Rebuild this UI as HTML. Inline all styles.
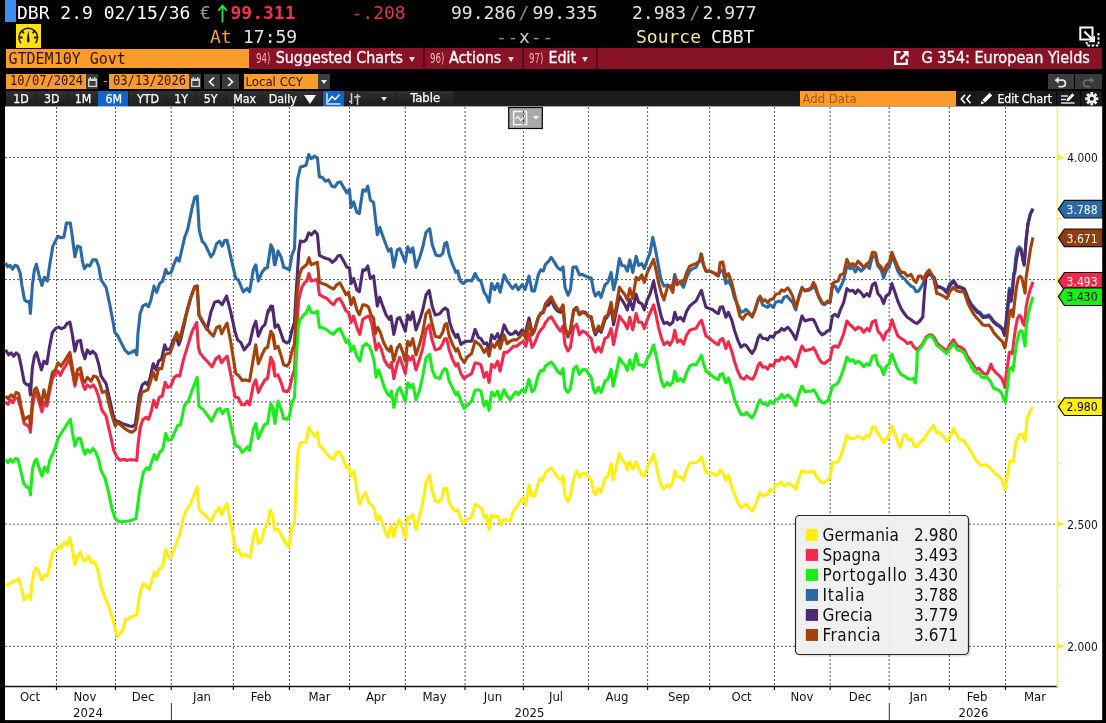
<!DOCTYPE html>
<html><head><meta charset="utf-8"><title>G 354: European Yields</title>
<style>
*{box-sizing:border-box}
html,body{margin:0;padding:0;background:#000}
body{width:1106px;height:723px;position:relative;overflow:hidden;font-family:"DejaVu Sans Condensed","DejaVu Sans","Liberation Sans",sans-serif;color:#fff}
.a{position:absolute;white-space:pre;line-height:1}
.m{font-family:"DejaVu Sans Mono","Liberation Mono",monospace}
.h1{font-size:18px;top:4.2px}
.h2{font-size:18px;top:27.9px}
.rb{position:absolute;top:48px;height:21px;background:#8a1226}
.rt{font-size:15.9px;top:50.3px;color:#fff;-webkit-text-stroke:.3px #fff}
.rn{font-size:14.6px;top:51.3px;color:#f3b0b6;transform:scaleX(.66);transform-origin:0 0}
.tb{position:absolute;top:90.5px;height:16px;background:#262626}
.tt{font-size:12.3px;top:92.5px;color:#fff;-webkit-text-stroke:.25px #fff}
svg{position:absolute;overflow:visible}
</style></head>
<body>
<div class="a" style="left:5px;top:0;width:10.5px;height:21.5px;background:#3c8cf0"></div>
<div class="a m h1" style="left:17px;color:#fff">DBR 2.9 02/15/36</div>
<div class="a m h1" style="left:200px;color:#9a9a9a">€</div>
<svg style="left:217px;top:4px" width="11" height="19" viewBox="0 0 11 19"><path d="M5.5 1.5V18.5M1.3 6.6L5.5 1.6 9.7 6.6" fill="none" stroke="#2fe04a" stroke-width="1.8"/></svg>
<div class="a m h1" style="left:230.5px;color:#f5304f;font-weight:bold">99.311</div>
<div class="a m h1" style="left:351.5px;color:#e8334d">-.208</div>
<div class="a m h1" style="left:451px;color:#e4e4e4">99.286</div>
<div class="a m h1" style="left:518.5px;color:#8a8a8a">/</div>
<div class="a m h1" style="left:532.5px;color:#e4e4e4">99.335</div>
<div class="a m h1" style="left:632px;color:#e4e4e4">2.983</div>
<div class="a m h1" style="left:689.5px;color:#8a8a8a">/</div>
<div class="a m h1" style="left:702.5px;color:#e4e4e4">2.977</div>
<div class="a" style="left:16px;top:23.5px;width:25px;height:24.5px;background:#ffe011"></div>
<svg style="left:16px;top:23.5px" width="25" height="24.5" viewBox="0 0 25 24.5"><path d="M4.9 19.2A9.3 9.3 0 1 1 19.6 19.2" fill="none" stroke="#1a1400" stroke-width="1.5"/><path d="M12.25 6.3C12.8 10 13.6 14.5 13.5 17.3A1.3 1.7 0 0 1 11 17.3C10.9 14.5 11.7 10 12.25 6.3Z" fill="#1a1400"/><path d="M3.3 13.5H6.6M17.9 13.5H21.2" stroke="#1a1400" stroke-width="2.1"/><path d="M5.8 7.3L8 8.9M18.7 7.3L16.5 8.9" stroke="#1a1400" stroke-width="1.9"/></svg>
<div class="a m h2" style="left:210px;color:#f9a03f">At</div>
<div class="a m h2" style="left:243px;color:#e4e4e4">17:59</div>
<div class="a m h2" style="left:496px;color:#8e8e8e;letter-spacing:.7px">--<span style="color:#cfcfcf">x</span>--</div>
<div class="a m h2" style="left:636px;color:#f3ea8e">Source</div>
<div class="a m h2" style="left:711px;color:#f0f0f0">CBBT</div>
<div class="a" style="left:6px;top:48.7px;width:242.5px;height:19.6px;background:#fb9b2b"></div>
<div class="a m" style="left:8.5px;top:52.3px;font-size:15px;color:#2a1600">GTDEM10Y Govt</div>
<div class="rb" style="left:248.5px;width:853.5px"></div>
<div class="a" style="left:423px;top:48px;width:1.5px;height:21px;background:#5a0a18"></div>
<div class="a" style="left:522px;top:48px;width:1.5px;height:21px;background:#5a0a18"></div>
<div class="a" style="left:596px;top:48px;width:1.5px;height:21px;background:#5a0a18"></div>
<div class="a rn" style="left:256.3px">94)</div>
<div class="a rt" style="left:275.7px">Suggested Charts</div>
<div class="a" style="left:409px;top:56.5px;width:0;height:0;border-left:3.5px solid transparent;border-right:3.5px solid transparent;border-top:5px solid #f4d8dc"></div>
<div class="a rn" style="left:429.5px">96)</div>
<div class="a rt" style="left:449px">Actions</div>
<div class="a" style="left:508px;top:56.5px;width:0;height:0;border-left:3.5px solid transparent;border-right:3.5px solid transparent;border-top:5px solid #f4d8dc"></div>
<div class="a rn" style="left:528.5px">97)</div>
<div class="a rt" style="left:548.5px">Edit</div>
<div class="a" style="left:582px;top:56.5px;width:0;height:0;border-left:3.5px solid transparent;border-right:3.5px solid transparent;border-top:5px solid #f4d8dc"></div>
<svg style="left:894px;top:51px" width="15" height="14" viewBox="0 0 15 14"><path d="M6.5 1.2H1.2V12.8H12.8V7.8" fill="none" stroke="#fff" stroke-width="2.2"/><path d="M8.2 0H14.6V6.4L12.3 4.1 7.4 9 5.6 7.2 10.5 2.3Z" fill="#fff"/></svg>
<div class="a rt" style="left:921.5px;font-size:16.1px;top:50px">G 354: European Yields</div>
<svg style="left:1078px;top:25px" width="23" height="23" viewBox="0 0 23 23"><path d="M2.3 2.5H14.5V14.5H2.3Z" fill="none" stroke="#fff" stroke-width="2"/><path d="M6.3 6.6L13.5 13.6" stroke="#fff" stroke-width="2.1"/><path d="M17 17.2V10.6L10.6 17.2Z" fill="#fff"/><path d="M20.5 8V20.5H8.7V16.5" fill="none" stroke="#fff" stroke-width="1.9" stroke-dasharray="2.6 1.6"/></svg>
<div class="a" style="left:6px;top:74px;width:79.5px;height:15px;background:#fb9b2b"></div>
<div class="a m" style="left:10px;top:74.3px;font-size:13.9px;color:#2a1600;transform:scaleX(.873);transform-origin:0 0">10/07/2024</div>
<div class="a" style="left:85.5px;top:74px;width:12.5px;height:15px;background:#3c3c3c"></div>
<svg style="left:87.5px;top:76.5px" width="9" height="10" viewBox="0 0 9 10"><path d="M.7 2.2H8.3V9.3H.7Z" fill="none" stroke="#d8d8d8" stroke-width="1.3"/><path d="M.7 2.2H8.3V4H.7Z" fill="#d8d8d8"/><path d="M2.3 0V2M6.7 0V2" stroke="#d8d8d8" stroke-width="1.2"/></svg>
<div class="a m" style="left:101.5px;top:74px;font-size:13px;color:#fb9b2b">-</div>
<div class="a" style="left:109.3px;top:74px;width:79.5px;height:15px;background:#fb9b2b"></div>
<div class="a m" style="left:113.3px;top:74.3px;font-size:13.9px;color:#2a1600;transform:scaleX(.873);transform-origin:0 0">03/13/2026</div>
<div class="a" style="left:188.8px;top:74px;width:12.5px;height:15px;background:#3c3c3c"></div>
<svg style="left:190.8px;top:76.5px" width="9" height="10" viewBox="0 0 9 10"><path d="M.7 2.2H8.3V9.3H.7Z" fill="none" stroke="#d8d8d8" stroke-width="1.3"/><path d="M.7 2.2H8.3V4H.7Z" fill="#d8d8d8"/><path d="M2.3 0V2M6.7 0V2" stroke="#d8d8d8" stroke-width="1.2"/></svg>
<div class="a" style="left:204px;top:74px;width:16.3px;height:15px;background:#3c3c3c"></div>
<svg style="left:204px;top:74px" width="16.3" height="15"><path d="M10 3.5L5.5 7.8 10 12" fill="none" stroke="#fff" stroke-width="1.7"/></svg>
<div class="a" style="left:222.3px;top:74px;width:16.3px;height:15px;background:#3c3c3c"></div>
<svg style="left:222.3px;top:74px" width="16.3" height="15"><path d="M6 3.5L10.5 7.8 6 12" fill="none" stroke="#fff" stroke-width="1.7"/></svg>
<div class="a" style="left:243.5px;top:74px;width:74.5px;height:15px;background:#fb9b2b"></div>
<div class="a" style="left:245.4px;top:75.2px;font-size:13.1px;color:#2a1600">Local CCY</div>
<div class="a" style="left:318px;top:74px;width:12px;height:15px;background:#3c3c3c"></div>
<div class="a" style="left:321px;top:80px;width:0;height:0;border-left:3px solid transparent;border-right:3px solid transparent;border-top:4.5px solid #e8e8e8"></div>
<div class="a" style="left:1048px;top:74px;width:26px;height:15px;background:#3c3c3c"></div>
<div class="a" style="left:1075px;top:74px;width:26.5px;height:15px;background:#393939"></div>
<svg style="left:1054px;top:76px" width="14" height="12" viewBox="0 0 14 12"><path d="M3 4.2H8.2A3.2 3.2 0 0 1 8.2 10.6H4.5" fill="none" stroke="#e8e8e8" stroke-width="1.7"/><path d="M4.6 .8V7.6L.6 4.2Z" fill="#e8e8e8"/></svg>
<svg style="left:1081px;top:76px" width="14" height="12" viewBox="0 0 14 12"><path d="M11 4.2H5.8A3.2 3.2 0 0 0 5.8 10.6H9.5" fill="none" stroke="#6a6a6a" stroke-width="1.7"/><path d="M9.4 .8V7.6L13.4 4.2Z" fill="#6a6a6a"/></svg>
<div class="tb" style="left:6px;width:1096px;background:#1d1d1d"></div>
<div class="tb" style="left:6px;width:29.5px;background:linear-gradient(#303030,#1c1c1c)"></div>
<div class="a tt" style="left:13.3px">1D</div>
<div class="tb" style="left:36.5px;width:30.0px;background:linear-gradient(#303030,#1c1c1c)"></div>
<div class="a tt" style="left:44px">3D</div>
<div class="tb" style="left:67.5px;width:30.0px;background:linear-gradient(#303030,#1c1c1c)"></div>
<div class="a tt" style="left:74.8px">1M</div>
<div class="tb" style="left:98px;width:29.5px;background:#1463c8"></div>
<div class="a tt" style="left:105.5px">6M</div>
<div class="tb" style="left:128.5px;width:37.5px;background:linear-gradient(#303030,#1c1c1c)"></div>
<div class="a tt" style="left:137px">YTD</div>
<div class="tb" style="left:167px;width:28.5px;background:linear-gradient(#303030,#1c1c1c)"></div>
<div class="a tt" style="left:174.3px">1Y</div>
<div class="tb" style="left:196.5px;width:29.0px;background:linear-gradient(#303030,#1c1c1c)"></div>
<div class="a tt" style="left:203.7px">5Y</div>
<div class="tb" style="left:226.5px;width:35.0px;background:linear-gradient(#303030,#1c1c1c)"></div>
<div class="a tt" style="left:233.3px">Max</div>
<div class="tb" style="left:262.5px;width:59.0px;background:linear-gradient(#303030,#1c1c1c)"></div>
<div class="a tt" style="left:268.8px">Daily</div>
<div class="a" style="left:303.8px;top:95px;width:0;height:0;border-left:6.5px solid transparent;border-right:6.5px solid transparent;border-top:9px solid #fff"></div>
<div class="tb" style="left:322.5px;width:21px;background:#1463c8"></div>
<svg style="left:325.5px;top:92.5px" width="15" height="12" viewBox="0 0 15 12"><path d="M1 0V11H14.5" fill="none" stroke="#dfe9f7" stroke-width="1.4"/><path d="M2 8.5L6 3.5 9 6.5 13.5 1.5" fill="none" stroke="#fff" stroke-width="1.5"/></svg>
<div class="tb" style="left:344px;width:51px;background:linear-gradient(#303030,#1c1c1c)"></div>
<svg style="left:349px;top:92.5px" width="12" height="12" viewBox="0 0 12 12"><path d="M2.5 0V11M0 8.5H2.5M8.5 1V12M8.5 3.5H11.5M5 4H8.5" fill="none" stroke="#d0d0d0" stroke-width="1.5"/></svg>
<div class="a" style="left:380.5px;top:97px;width:0;height:0;border-left:3px solid transparent;border-right:3px solid transparent;border-top:4px solid #e8e8e8"></div>
<div class="tb" style="left:396px;width:57px;background:linear-gradient(#303030,#1c1c1c)"></div>
<div class="a tt" style="left:410.3px;font-size:12.9px;top:92px">Table</div>
<div class="a" style="left:800px;top:91px;width:155.5px;height:14.5px;background:#fb9b2b"></div>
<div class="a" style="left:802.5px;top:91.7px;font-size:13px;color:#9a5a10">Add Data</div>
<div class="tb" style="left:955.5px;width:146.5px;background:#1a1a1a"></div>
<svg style="left:960px;top:93.5px" width="12" height="10" viewBox="0 0 12 10"><path d="M5 .7L1.3 5 5 9.3M10.5 .7L6.8 5 10.5 9.3" fill="none" stroke="#fff" stroke-width="1.6"/></svg>
<svg style="left:980px;top:92px" width="13" height="13" viewBox="0 0 13 13"><path d="M9.6 .8L12.2 3.4 5 10.6 2.4 8Z" fill="#fff"/><path d="M1.8 8.8L4.2 11.2.6 12.4Z" fill="#fff"/></svg>
<div class="a tt" style="left:997.5px;font-size:12.1px;top:92.6px">Edit Chart</div>
<div class="a" style="left:1055.5px;top:90.5px;width:1px;height:16px;background:#000"></div>
<div class="a" style="left:1079.5px;top:90.5px;width:1px;height:16px;background:#000"></div>
<svg style="left:1061px;top:93px" width="14" height="11" viewBox="0 0 14 11"><path d="M0 3H7M0 6.5H5M0 10H13.5" stroke="#e0e0e0" stroke-width="1.5"/><path d="M11.4 .3L13.4 2.3 8 7.7 5.4 8.3 6 5.7Z" fill="#fff"/></svg>
<svg style="left:1084.5px;top:92px" width="13.5" height="13.5" viewBox="-6.75 -6.75 13.5 13.5"><rect x="-1.4" y="-6.6" width="2.8" height="3.4" transform="rotate(0)" fill="#f0f0f0"/><rect x="-1.4" y="-6.6" width="2.8" height="3.4" transform="rotate(45)" fill="#f0f0f0"/><rect x="-1.4" y="-6.6" width="2.8" height="3.4" transform="rotate(90)" fill="#f0f0f0"/><rect x="-1.4" y="-6.6" width="2.8" height="3.4" transform="rotate(135)" fill="#f0f0f0"/><rect x="-1.4" y="-6.6" width="2.8" height="3.4" transform="rotate(180)" fill="#f0f0f0"/><rect x="-1.4" y="-6.6" width="2.8" height="3.4" transform="rotate(225)" fill="#f0f0f0"/><rect x="-1.4" y="-6.6" width="2.8" height="3.4" transform="rotate(270)" fill="#f0f0f0"/><rect x="-1.4" y="-6.6" width="2.8" height="3.4" transform="rotate(315)" fill="#f0f0f0"/><circle r="3.3" fill="none" stroke="#f0f0f0" stroke-width="2.6"/></svg>
<svg style="left:0;top:0" width="1106" height="723" viewBox="0 0 1106 723" font-family='"DejaVu Sans Condensed","DejaVu Sans","Liberation Sans",sans-serif'>
<rect x="5" y="106.4" width="1097.2" height="613.7" fill="#fff"/>
<path d="M56.5 107V686M115.5 107V686M171.2 107V686M233.3 107V686M289.4 107V686M349.5 107V686M405.3 107V686M465 107V686M523.4 107V686M588.4 107V686M647.6 107V686M709.7 107V686M774.4 107V686M830.2 107V686M889.2 107V686M949.3 107V686M1005.5 107V686M5 157.4H1057M5 279.6H1057M5 401.9H1057M5 524.1H1057M5 646.3H1057" stroke="#585858" stroke-width="1" stroke-dasharray="2 2" fill="none"/>
<path d="M5 686.5H1058" stroke="#111" stroke-width="1.3"/>
<path d="M56.5 686V690" stroke="#111" stroke-width="1.2"/><path d="M115.5 686V690" stroke="#111" stroke-width="1.2"/><path d="M171.2 686V690" stroke="#111" stroke-width="1.2"/><path d="M233.3 686V690" stroke="#111" stroke-width="1.2"/><path d="M289.4 686V690" stroke="#111" stroke-width="1.2"/><path d="M349.5 686V690" stroke="#111" stroke-width="1.2"/><path d="M405.3 686V690" stroke="#111" stroke-width="1.2"/><path d="M465 686V690" stroke="#111" stroke-width="1.2"/><path d="M523.4 686V690" stroke="#111" stroke-width="1.2"/><path d="M588.4 686V690" stroke="#111" stroke-width="1.2"/><path d="M647.6 686V690" stroke="#111" stroke-width="1.2"/><path d="M709.7 686V690" stroke="#111" stroke-width="1.2"/><path d="M774.4 686V690" stroke="#111" stroke-width="1.2"/><path d="M830.2 686V690" stroke="#111" stroke-width="1.2"/><path d="M889.2 686V690" stroke="#111" stroke-width="1.2"/><path d="M949.3 686V690" stroke="#111" stroke-width="1.2"/><path d="M1005.5 686V690" stroke="#111" stroke-width="1.2"/>
<path d="M171.4 703V720M889.3 703V720" stroke="#333" stroke-width="1"/>
<path d="M1057.4 107V687" stroke="#f4f06a" stroke-width="1.6"/>
<path d="M1057 154.4L1065 157.4L1057 160.4Z" fill="#fbe92a"/>
<path d="M1057 276.6L1065 279.6L1057 282.6Z" fill="#fbe92a"/>
<path d="M1057 398.9L1065 401.9L1057 404.9Z" fill="#fbe92a"/>
<path d="M1057 521.1L1065 524.1L1057 527.1Z" fill="#fbe92a"/>
<path d="M1057 643.3L1065 646.3L1057 649.3Z" fill="#fbe92a"/>
<path d="M1057 218.5H1062" stroke="#f4f06a" stroke-width="1.2"/>
<path d="M1057 340.7H1062" stroke="#f4f06a" stroke-width="1.2"/>
<path d="M1057 463.0H1062" stroke="#f4f06a" stroke-width="1.2"/>
<path d="M1057 585.2H1062" stroke="#f4f06a" stroke-width="1.2"/>
<g font-size="13" fill="#111" text-anchor="middle">
<text x="30" y="701">Oct</text>
<text x="85" y="701">Nov</text>
<text x="143" y="701">Dec</text>
<text x="202" y="701">Jan</text>
<text x="261" y="701">Feb</text>
<text x="319.5" y="701">Mar</text>
<text x="376" y="701">Apr</text>
<text x="434.6" y="701">May</text>
<text x="493" y="701">Jun</text>
<text x="556" y="701">Jul</text>
<text x="617" y="701">Aug</text>
<text x="679" y="701">Sep</text>
<text x="741.6" y="701">Oct</text>
<text x="802" y="701">Nov</text>
<text x="860" y="701">Dec</text>
<text x="918.4" y="701">Jan</text>
<text x="977" y="701">Feb</text>
<text x="1035" y="701">Mar</text>
<text x="88" y="717">2024</text>
<text x="529.5" y="717">2025</text>
<text x="973.5" y="717">2026</text>
</g>
<g font-size="12.6" fill="#111">
<text x="1067.3" y="162.0" textLength="30.4" lengthAdjust="spacingAndGlyphs">4.000</text>
<text x="1067.3" y="528.7" textLength="30.4" lengthAdjust="spacingAndGlyphs">2.500</text>
<text x="1067.3" y="650.9" textLength="30.4" lengthAdjust="spacingAndGlyphs">2.000</text>
</g>
<path d="M5.5 585.3 8.7 584.3 12.0 582.3 15.0 581.1 18.7 578.6 21.2 587.3 24.2 599.8 27.0 596.0 29.4 594.8 30.4 599.8 32.4 579.8 34.4 571.1 36.4 567.8 38.9 572.3 41.9 580.3 44.4 574.8 47.4 576.1 49.9 564.8 52.9 551.9 56.2 550.4 58.6 546.1 61.1 547.9 64.1 542.4 66.9 545.4 69.9 537.4 72.4 549.9 74.9 564.8 77.9 556.1 80.4 551.9 83.6 561.1 86.1 560.3 88.6 556.1 91.6 562.8 94.8 561.8 97.8 569.8 101.1 586.0 104.8 597.3 108.6 606.0 112.3 617.2 115.3 629.7 117.3 636.7 120.3 633.5 123.0 629.7 125.5 619.7 128.5 619.2 131.0 616.7 134.3 616.0 136.8 614.7 138.8 599.8 141.0 589.8 143.5 583.6 146.7 586.8 149.2 589.3 151.7 581.1 154.2 572.3 156.7 576.1 159.7 568.6 162.7 566.8 165.7 549.4 168.2 557.3 171.7 556.1 174.7 547.4 177.7 539.9 179.7 534.9 183.4 517.4 185.9 511.2 190.2 504.9 194.2 495.0 197.2 487.0 198.9 508.7 202.1 512.4 205.9 516.2 210.9 521.2 213.4 516.2 216.6 510.4 219.1 507.4 221.6 514.9 224.6 507.4 227.1 503.7 230.1 519.9 233.3 536.1 235.8 551.1 238.6 549.9 241.6 556.1 244.6 554.4 247.6 556.1 250.1 557.3 253.3 537.4 255.8 529.4 258.3 543.6 261.5 541.1 264.5 528.6 267.5 524.4 270.3 509.9 272.8 516.2 274.5 529.9 278.0 529.3 281.2 534.8 283.7 539.8 287.0 544.7 289.0 547.2 292.0 527.3 294.5 523.5 296.2 482.4 298.0 452.4 300.4 442.9 303.7 442.4 306.2 441.9 308.9 427.0 311.9 432.4 314.9 436.2 317.4 432.4 319.4 445.4 322.9 448.7 326.9 453.7 330.4 457.9 333.6 459.4 336.9 451.9 339.9 452.4 342.9 457.9 346.1 467.4 348.6 466.1 351.1 476.1 354.1 471.1 356.8 489.8 359.8 504.3 362.8 496.1 365.6 492.8 368.6 502.3 371.1 504.8 373.8 507.8 376.8 520.3 379.8 516.0 382.8 524.8 386.0 533.5 388.0 537.3 391.0 524.8 393.8 536.8 396.8 524.8 399.3 519.8 402.3 527.3 405.3 537.8 407.8 517.3 410.3 517.8 412.8 514.8 416.0 529.8 419.2 517.3 422.2 506.1 426.0 482.4 429.7 475.4 432.2 491.1 435.2 501.1 438.5 502.3 441.7 498.6 443.9 488.6 446.7 488.6 449.2 502.8 452.2 507.8 455.2 511.1 457.7 509.8 460.9 519.3 463.4 523.5 467.2 519.3 471.6 517.3 475.1 504.3 478.4 506.1 481.6 508.6 484.1 517.3 486.6 515.3 489.1 529.8 491.6 515.3 494.6 516.8 497.6 516.0 500.8 524.8 504.1 519.3 507.1 520.3 510.1 521.0 513.3 511.1 516.6 506.8 519.6 502.3 523.3 497.8 525.8 504.8 529.0 485.4 532.0 496.1 534.5 496.1 537.5 486.1 540.0 478.6 542.5 480.4 545.5 472.9 548.7 469.8 551.2 467.8 554.5 472.3 557.5 477.3 560.5 479.8 563.0 476.0 565.0 496.0 568.0 501.7 570.4 496.0 573.7 478.5 576.7 471.0 579.4 477.3 582.4 473.5 585.4 473.5 588.7 476.8 591.2 479.8 593.7 492.2 595.4 494.7 598.6 488.5 601.1 492.2 604.9 478.5 607.9 476.0 611.1 463.5 613.1 479.8 616.1 467.3 619.4 453.6 621.9 459.3 624.9 462.3 627.3 469.8 629.8 461.8 632.8 469.3 636.1 461.8 638.6 468.5 641.8 474.8 644.3 476.0 647.3 467.3 649.8 462.3 653.6 454.3 656.0 464.3 658.5 476.0 661.5 486.0 664.0 489.2 667.3 484.7 669.8 487.2 672.8 482.3 674.8 471.0 677.3 476.8 680.3 476.8 683.5 480.3 686.7 469.8 689.7 463.5 692.7 462.8 696.0 462.8 699.7 459.8 701.5 456.8 703.5 463.5 706.0 472.3 709.7 472.8 712.7 473.5 715.9 476.0 718.4 473.5 720.2 469.8 722.7 472.3 725.9 480.3 728.4 474.8 731.7 487.2 734.7 494.7 737.7 502.2 740.9 507.7 744.1 506.0 746.6 504.2 749.6 508.5 752.1 511.0 755.1 506.0 758.4 496.7 760.1 492.7 762.6 496.0 765.1 494.7 767.6 494.7 770.1 489.7 773.3 491.0 775.8 484.7 779.1 484.2 781.6 482.3 784.1 486.0 787.8 483.5 790.1 484.2 792.6 485.2 795.8 489.2 799.0 478.5 802.0 470.3 805.0 472.3 809.0 472.3 811.5 471.8 813.5 471.0 815.5 474.8 818.7 479.3 822.0 482.8 824.5 482.8 827.5 480.3 830.0 476.8 832.5 462.8 835.0 462.3 838.0 461.8 840.4 457.3 843.7 447.3 846.9 434.9 849.9 438.6 852.9 438.6 855.4 437.9 857.9 436.1 861.2 437.9 863.7 439.4 866.9 434.9 869.4 436.9 872.4 426.9 875.4 427.4 877.9 433.6 881.1 437.9 883.6 442.9 886.1 439.4 889.4 434.9 891.9 426.1 894.9 433.6 897.8 441.9 900.3 447.3 903.6 435.4 906.1 434.9 908.6 439.9 911.8 439.4 914.3 446.1 916.8 446.8 919.8 442.4 923.6 439.9 926.8 434.4 929.8 429.9 933.5 425.4 936.8 432.9 939.8 432.4 943.5 436.9 946.8 441.1 949.8 437.4 953.5 428.6 956.7 434.9 959.7 439.9 963.5 440.4 966.7 444.9 970.2 450.3 973.5 456.1 976.7 461.1 981.0 465.3 984.7 464.8 988.4 466.1 991.7 469.8 995.2 473.6 998.4 475.3 1001.7 479.8 1005.2 489.3 1007.2 477.3 1009.7 461.1 1013.4 461.8 1015.9 442.4 1019.1 434.9 1022.1 434.4 1025.1 441.1 1027.1 418.6 1029.6 412.4 1032.6 406.7" fill="none" stroke="#ffee10" stroke-width="3.1" stroke-linejoin="round" stroke-linecap="butt"/>
<path d="M5.5 402.3 8.0 404.3 10.5 399.8 13.0 402.8 15.5 397.8 18.0 398.6 21.2 409.8 24.2 423.6 27.0 425.3 29.4 427.3 30.4 432.3 32.4 407.3 34.4 396.1 36.4 392.9 38.9 401.1 41.9 411.8 44.4 402.3 46.9 406.1 49.4 392.4 52.4 378.6 55.4 373.6 57.9 371.1 60.4 375.4 62.9 369.9 66.1 364.9 69.4 358.7 72.4 372.4 74.9 386.1 77.4 374.9 80.4 374.4 82.9 384.9 84.9 389.4 87.3 384.9 90.3 387.4 93.3 384.9 96.3 389.9 98.8 397.3 101.8 409.8 106.1 416.1 109.8 432.3 113.6 449.8 116.8 457.2 120.3 460.2 123.5 459.2 126.8 460.5 129.8 459.7 133.5 459.7 136.8 460.5 138.0 444.8 140.3 427.3 142.8 419.8 146.0 417.3 148.5 419.3 151.0 412.3 153.7 400.3 156.5 407.3 159.2 397.3 162.2 396.1 165.2 382.4 167.7 387.4 170.7 386.1 174.2 377.4 177.2 375.4 179.7 376.1 183.4 359.9 187.2 347.4 192.2 331.2 196.7 322.5 198.4 347.4 199.7 352.4 203.4 357.4 207.1 361.2 212.1 366.9 215.9 358.7 219.1 356.2 221.6 362.9 224.6 358.7 227.1 356.2 230.8 374.9 235.1 397.3 238.3 397.8 241.6 404.8 244.6 404.8 247.1 401.1 249.6 404.8 253.3 384.9 255.8 379.9 258.3 392.4 262.0 384.9 265.0 379.9 267.5 378.6 270.8 357.4 273.3 362.4 274.5 369.9 272.5 362.4 275.0 376.1 278.0 374.9 281.2 382.8 283.7 391.1 287.0 391.8 289.5 388.6 292.0 377.3 294.5 369.9 296.2 334.9 298.0 310.0 298.7 299.7 301.9 287.2 304.9 282.3 306.9 281.0 308.9 273.5 311.2 281.0 314.4 280.3 317.4 279.3 319.4 294.7 322.9 296.7 326.9 298.5 330.4 302.2 333.6 304.7 336.9 299.7 339.9 298.5 342.9 304.2 346.1 311.0 348.6 312.5 351.1 322.4 353.6 316.2 356.8 327.4 359.8 334.4 362.8 319.4 366.1 317.0 369.3 316.2 371.8 323.7 374.3 338.7 376.1 349.9 378.6 343.7 381.1 348.6 384.3 359.9 387.3 364.9 389.8 367.4 391.5 362.4 393.8 378.6 397.3 363.6 399.8 357.4 402.8 366.1 405.3 373.6 407.8 356.1 410.3 359.9 412.8 356.1 416.0 369.9 419.7 358.6 422.7 348.6 426.0 329.9 429.2 324.9 431.7 338.7 435.2 349.9 439.7 348.6 442.7 343.7 444.7 338.7 446.7 338.7 449.2 349.9 452.2 358.6 455.9 366.1 457.7 363.6 460.9 373.6 464.2 378.6 467.2 376.1 471.6 373.6 475.1 362.9 478.4 363.6 480.9 364.9 484.1 377.3 486.6 372.4 489.1 382.3 491.6 364.4 494.6 367.4 497.6 361.1 500.1 371.1 504.1 352.4 507.1 352.4 510.1 349.9 513.3 346.2 516.6 346.2 519.6 343.7 523.3 341.2 525.8 346.2 529.0 333.7 532.0 347.4 534.5 343.7 538.3 333.7 540.8 329.9 543.3 327.4 545.5 322.4 548.7 318.5 551.2 316.8 554.5 322.3 557.5 327.3 560.5 331.0 563.0 326.0 565.0 344.7 568.0 351.0 570.4 347.2 573.7 327.3 576.7 324.3 579.4 334.8 582.4 331.0 585.4 332.3 588.7 336.0 591.2 338.5 593.7 349.7 595.4 352.2 598.6 347.2 601.1 352.2 604.9 338.5 607.9 336.8 611.1 328.5 613.6 344.7 616.1 332.3 619.4 316.0 621.9 319.8 624.9 323.5 627.3 328.5 629.8 317.3 632.8 329.8 636.1 313.6 638.6 322.3 641.8 322.3 644.3 328.5 647.3 319.8 649.8 313.6 653.6 304.8 656.0 314.8 658.5 327.3 661.5 338.5 664.0 344.7 667.3 341.8 669.8 345.2 672.8 339.8 674.8 330.3 677.3 342.3 680.3 339.8 683.5 344.2 686.7 334.8 689.7 330.3 692.7 329.3 696.0 328.5 699.7 322.3 701.5 320.3 703.5 327.3 706.0 336.0 709.7 338.5 712.7 341.0 715.9 343.5 718.4 344.7 720.2 339.8 722.7 338.5 725.9 348.5 728.4 341.8 731.7 351.0 734.7 362.2 737.7 371.0 740.9 377.7 744.1 379.2 746.6 375.9 749.6 378.4 752.6 379.2 755.1 374.7 758.4 364.7 760.1 362.7 762.6 367.2 765.1 366.7 767.6 369.2 770.1 364.7 773.3 366.0 775.8 360.2 779.1 361.0 781.6 357.2 784.1 359.7 787.8 356.7 790.1 358.5 792.6 361.0 795.8 366.7 799.0 354.7 802.0 346.0 805.0 351.0 809.0 349.7 811.5 349.2 813.5 347.7 815.5 351.0 818.7 358.5 822.0 362.7 824.5 363.5 827.5 361.0 830.0 359.7 832.5 347.2 835.0 346.0 838.0 347.2 840.4 342.3 843.7 333.5 846.9 321.0 849.9 324.8 852.9 327.3 855.4 329.8 857.9 327.3 861.2 328.5 863.7 332.3 866.9 328.5 869.4 331.0 872.4 321.8 875.4 320.3 877.9 331.0 881.1 334.8 883.6 339.8 886.1 332.3 889.4 329.8 891.9 319.8 894.9 328.5 897.8 336.0 901.1 338.5 904.3 340.3 907.3 343.5 911.1 342.3 913.6 346.7 916.8 349.7 919.8 347.2 922.8 343.5 926.0 337.3 929.3 334.8 932.3 335.3 934.8 338.5 937.3 343.5 940.3 346.0 943.5 348.5 946.8 351.0 949.8 344.7 953.5 339.8 957.2 346.0 961.0 347.2 964.2 349.7 967.2 356.0 971.0 361.7 974.7 367.2 971.2 363.1 974.3 366.8 976.8 369.3 978.9 368.1 981.2 371.2 983.7 373.7 986.8 374.3 989.3 369.3 990.9 364.3 993.0 369.3 996.2 373.1 999.3 375.6 1001.8 378.7 1003.6 383.0 1004.9 387.4 1006.1 374.9 1008.0 362.5 1009.3 352.5 1011.4 351.9 1012.4 353.7 1013.9 339.9 1015.5 328.6 1017.4 318.7 1019.2 315.5 1021.1 316.8 1023.0 323.7 1024.6 325.5 1026.1 307.4 1028.0 297.5 1030.5 288.7 1033.0 281.9" fill="none" stroke="#f2294b" stroke-width="3.1" stroke-linejoin="round" stroke-linecap="butt"/>
<path d="M5.5 459.7 8.0 462.7 10.5 459.2 13.0 462.2 15.5 458.5 18.0 459.7 20.5 469.7 23.7 483.4 27.0 487.2 29.4 487.7 30.4 495.0 32.4 469.7 34.4 462.2 36.4 459.2 38.9 467.2 41.9 476.0 44.4 467.2 47.4 472.2 49.9 459.7 52.9 453.5 55.4 447.3 58.4 437.3 61.1 433.5 64.4 428.5 67.4 423.6 70.4 419.3 72.4 432.3 74.9 446.0 77.9 438.5 80.4 438.5 82.9 448.5 84.9 454.2 87.3 449.8 90.3 452.3 92.8 448.5 95.8 452.3 98.6 459.7 101.1 471.0 104.8 477.5 108.6 492.5 112.3 509.9 115.3 518.7 118.5 521.2 121.8 521.9 124.8 521.2 128.5 521.2 132.3 519.9 136.0 518.7 137.8 504.9 139.8 490.0 142.3 477.5 143.5 472.2 146.7 467.7 149.2 469.7 151.2 463.5 154.2 454.7 156.7 459.7 159.7 452.3 162.7 449.8 165.7 433.5 168.2 440.3 171.7 439.3 174.7 432.3 177.7 425.3 180.2 425.3 184.7 404.8 188.4 401.1 192.2 389.9 197.2 377.4 198.9 406.1 203.4 409.8 207.1 414.8 211.6 421.1 214.6 414.8 217.6 409.3 220.1 408.6 222.6 413.6 225.1 409.8 227.6 409.3 230.8 424.8 235.8 446.0 239.1 446.8 242.1 452.3 245.1 449.8 247.6 446.8 249.6 450.3 253.3 429.8 255.8 423.6 258.3 438.5 262.0 429.8 264.5 424.8 267.5 423.6 270.8 403.6 273.3 408.6 275.0 419.8 272.5 407.3 275.0 423.5 278.0 401.1 281.2 409.3 283.7 418.5 287.0 419.3 289.5 416.0 292.0 402.3 294.5 397.3 296.2 359.9 298.0 329.9 299.9 319.9 303.7 315.0 306.2 313.0 308.9 306.2 311.2 312.5 314.4 313.0 317.4 311.2 319.4 327.4 322.9 327.9 326.9 329.9 330.4 332.9 333.6 334.4 336.9 329.9 339.9 328.7 342.9 334.9 346.1 342.4 348.6 339.9 351.1 351.1 353.6 346.2 356.8 356.1 359.8 361.1 362.8 346.2 366.1 343.7 369.3 346.2 371.8 352.4 374.3 362.4 376.1 377.3 378.6 369.9 381.1 377.3 384.3 387.3 387.3 393.6 389.8 396.1 391.5 391.1 393.8 407.3 397.3 391.1 399.8 387.3 402.8 394.8 405.3 401.1 407.8 382.8 410.3 387.3 412.8 384.3 416.0 399.8 419.7 389.8 422.7 376.1 426.0 357.9 429.7 354.4 432.2 369.9 435.2 377.3 439.7 378.6 442.7 371.1 444.7 368.6 446.7 369.9 449.2 381.1 452.2 387.3 455.9 394.8 457.7 392.3 460.9 401.1 464.2 408.5 467.2 405.3 471.6 401.1 475.1 390.3 478.4 389.8 480.9 391.1 484.1 406.0 486.6 401.1 489.1 410.3 491.6 392.3 494.6 396.1 497.6 391.1 500.1 399.8 504.1 389.8 507.1 396.1 510.1 399.8 513.3 394.8 515.8 391.8 518.3 394.8 522.1 389.8 525.1 392.3 529.0 379.3 532.0 391.8 534.5 389.3 538.3 374.9 540.8 370.4 543.3 371.1 545.5 366.1 548.7 363.7 551.2 362.0 554.5 366.2 557.5 371.2 560.5 373.7 563.0 368.7 565.0 388.7 568.0 392.4 570.4 388.7 573.7 368.7 576.7 366.2 579.4 374.4 582.4 369.9 585.4 369.4 588.7 373.7 591.2 377.4 593.7 389.9 595.4 392.9 598.6 387.4 601.1 392.4 604.9 381.2 607.9 379.4 611.1 369.4 613.1 386.2 616.1 373.7 619.4 358.0 621.9 362.0 624.9 365.0 627.3 370.4 629.8 360.0 632.8 369.4 636.1 353.7 638.6 365.0 641.8 365.0 644.3 367.0 647.3 358.7 649.8 355.0 653.6 345.0 656.0 355.0 658.5 367.5 661.5 381.2 664.0 386.9 667.3 382.4 669.8 385.4 672.8 382.4 674.8 371.2 677.3 381.2 680.3 378.7 683.5 381.9 686.7 372.4 689.7 366.2 692.7 364.5 696.0 365.0 699.7 358.7 701.5 355.5 703.5 363.7 706.0 371.2 709.7 373.7 712.7 376.2 715.9 378.7 718.4 379.4 720.2 374.4 722.7 373.7 725.9 382.9 728.4 377.9 731.7 388.7 734.7 399.9 737.7 407.4 740.9 414.4 744.1 414.9 746.6 412.4 749.6 416.1 752.1 417.9 755.1 412.4 758.4 402.9 760.1 399.9 762.6 403.6 765.1 403.6 767.6 405.4 770.1 401.1 773.3 403.6 775.8 399.4 779.1 398.6 781.6 394.4 784.1 397.9 787.8 394.9 790.1 397.4 792.6 399.9 795.8 405.4 799.0 393.7 802.0 386.2 805.0 391.9 809.0 391.2 811.5 391.2 813.5 389.9 815.5 392.4 818.7 398.7 822.0 402.4 824.5 402.9 827.5 401.2 830.0 394.9 832.5 386.2 835.0 385.0 838.0 383.0 840.4 377.5 843.7 368.7 846.9 357.2 849.9 361.0 852.9 359.7 855.4 363.5 857.9 361.0 861.2 363.5 863.7 366.7 866.9 363.5 869.4 365.2 872.4 356.7 875.4 355.2 877.9 364.7 881.1 367.7 883.6 374.7 886.1 366.7 889.4 363.5 891.9 354.2 894.9 362.2 897.8 369.7 901.1 374.7 904.3 375.9 907.3 378.4 911.1 379.2 913.6 378.4 915.3 383.0 916.8 367.5 917.3 352.2 919.8 348.5 922.8 344.7 926.0 338.5 929.3 336.0 932.3 336.8 934.8 341.0 937.3 346.0 940.3 347.7 943.5 351.0 946.8 353.5 949.8 348.5 953.5 343.5 957.2 349.7 961.0 351.0 964.2 352.7 967.2 359.7 971.0 364.7 974.7 369.7 971.2 366.8 974.3 371.2 976.8 373.1 978.9 373.1 981.2 376.8 983.7 377.4 986.8 377.4 989.3 379.9 991.2 383.0 993.7 388.0 996.2 389.3 999.3 390.5 1001.8 393.7 1003.6 398.6 1005.5 402.4 1007.4 387.4 1009.3 369.3 1011.4 367.5 1013.0 370.6 1014.5 358.7 1016.1 346.2 1017.4 339.9 1019.2 332.4 1021.1 330.5 1022.6 332.4 1023.9 339.9 1025.1 346.1 1026.1 328.6 1028.0 314.9 1030.5 304.9 1033.0 296.8" fill="none" stroke="#19ee19" stroke-width="3.1" stroke-linejoin="round" stroke-linecap="butt"/>
<path d="M5.5 262.8 7.5 266.8 10.0 265.3 12.5 269.3 15.0 265.3 17.5 266.3 20.0 272.3 22.0 286.0 24.5 299.7 27.0 301.7 29.4 301.2 30.4 313.5 32.4 284.8 34.4 269.8 36.4 264.3 38.9 274.8 41.9 285.5 44.4 277.3 47.4 281.0 49.9 263.6 52.9 246.1 55.4 241.1 57.9 236.1 60.9 237.8 63.9 237.3 66.4 223.1 70.4 223.1 72.4 237.3 74.9 256.8 77.4 246.1 80.4 247.3 82.4 261.1 84.4 268.5 87.3 264.8 89.8 266.0 92.8 259.8 96.1 259.8 98.6 266.0 101.1 279.8 106.1 287.3 109.8 304.7 113.6 324.7 114.8 332.5 117.3 335.0 121.0 342.4 124.8 349.9 128.5 353.7 132.3 351.9 134.8 350.4 136.8 354.9 138.0 332.5 139.8 317.5 139.8 314.7 142.8 306.0 146.0 304.2 148.5 306.7 151.0 299.7 154.0 286.0 156.7 292.3 159.7 283.5 162.7 281.0 165.7 269.3 167.7 273.5 171.0 272.8 174.7 262.3 176.7 257.8 179.2 261.1 184.7 237.3 187.7 229.4 192.2 207.4 194.7 197.4 197.2 196.2 199.2 229.9 202.1 241.1 205.1 244.3 210.9 256.8 213.4 253.6 216.6 243.6 219.6 241.1 222.1 246.1 224.6 240.3 227.1 240.3 230.8 257.3 235.8 278.5 238.3 279.8 243.3 291.8 247.1 288.5 249.6 291.8 253.3 269.8 255.8 264.8 258.3 281.0 262.0 272.3 265.0 268.5 267.5 267.3 270.8 244.8 273.3 249.8 274.5 264.8 272.5 249.8 275.0 264.8 278.0 251.1 281.2 257.3 283.7 267.3 287.0 268.5 289.5 269.8 292.0 254.8 294.5 248.6 295.7 214.9 297.5 179.9 300.4 167.0 303.7 166.2 306.2 165.0 308.7 154.5 311.2 158.7 314.4 156.2 317.4 158.0 319.4 176.9 322.4 177.4 325.4 181.2 328.6 179.9 331.9 186.2 334.9 186.9 337.9 182.4 340.4 181.9 343.6 187.4 346.9 192.9 349.4 189.4 351.1 207.4 353.6 201.9 356.8 212.4 359.3 213.6 362.8 189.9 365.3 191.2 367.8 186.2 370.3 199.9 373.6 202.4 375.3 217.4 377.3 234.8 379.8 227.3 382.3 234.8 386.0 244.8 388.5 251.1 391.0 248.6 393.8 267.3 397.3 249.8 399.8 248.6 402.8 256.0 405.3 262.3 407.8 246.8 410.3 252.3 412.8 247.8 416.0 267.3 419.7 257.3 422.7 247.3 426.0 232.3 429.7 228.6 432.2 244.8 436.0 255.3 439.7 256.0 442.7 253.6 444.7 243.6 446.7 242.3 449.2 254.8 452.2 263.5 455.9 272.3 457.7 271.0 460.2 281.0 463.4 283.5 467.2 280.3 471.6 281.0 475.1 273.5 478.4 279.8 480.9 281.0 484.1 292.2 486.6 296.0 489.1 302.2 491.6 283.5 494.6 289.7 497.6 283.5 500.1 292.2 504.1 274.8 507.1 281.0 510.1 285.2 512.6 288.5 515.8 284.7 518.3 289.7 522.1 284.7 525.1 289.7 529.0 276.0 532.0 291.0 534.5 291.0 538.3 274.8 540.8 269.8 543.3 271.0 545.5 264.3 548.7 261.1 551.2 257.4 554.5 262.4 557.5 267.4 560.5 269.9 563.0 266.9 565.0 287.3 568.0 295.3 570.4 289.8 572.9 267.4 576.2 266.9 579.4 274.9 582.4 274.4 585.4 276.1 588.7 277.4 591.2 277.9 593.7 291.1 595.4 296.1 598.6 292.3 601.1 297.3 604.9 284.9 607.9 282.4 611.1 272.4 613.6 289.8 616.1 279.9 619.4 258.6 621.9 265.4 624.9 266.1 627.3 271.1 629.8 259.9 632.8 272.4 636.1 256.2 638.6 265.4 641.8 263.6 644.3 268.6 647.3 259.9 649.8 253.7 652.8 237.4 655.3 248.7 657.8 262.4 661.0 279.9 664.0 286.1 667.3 284.9 669.8 286.1 672.8 284.9 674.8 274.4 677.3 283.6 680.3 282.4 683.5 287.3 686.7 277.4 689.7 271.1 692.7 268.6 696.0 267.4 699.7 259.9 701.0 253.7 703.5 264.9 706.0 271.1 709.7 271.1 712.7 272.4 715.9 273.6 718.4 274.9 720.2 271.1 722.7 270.4 725.9 283.6 728.4 280.4 731.7 287.3 734.7 298.6 737.7 304.8 740.9 312.3 744.1 311.1 745.9 309.3 749.1 312.3 752.1 316.8 755.1 309.8 758.4 299.8 760.1 297.3 762.6 304.8 765.1 306.1 767.6 307.3 770.1 304.8 773.3 307.3 775.8 302.3 779.1 301.1 781.6 302.3 784.1 297.3 787.1 296.1 790.1 299.8 792.6 302.3 795.8 309.8 799.0 296.1 802.0 287.3 805.0 291.1 809.0 290.3 811.5 288.6 813.5 286.1 815.5 288.6 818.7 297.3 822.0 303.6 824.5 304.8 827.5 302.3 830.0 302.8 832.5 286.1 835.0 286.1 838.0 291.8 840.4 287.3 843.7 279.9 846.9 266.1 849.9 268.6 852.9 267.4 855.4 271.9 857.9 267.4 861.2 271.1 863.7 268.6 866.9 265.4 869.4 268.6 872.4 256.2 875.4 256.9 877.9 266.1 881.1 269.9 883.6 277.9 886.1 271.1 889.4 266.9 891.9 256.2 894.9 262.9 897.8 271.1 901.1 276.1 904.3 278.6 907.3 282.4 911.1 286.1 913.6 287.3 916.1 291.8 918.6 291.1 921.1 287.3 923.6 282.4 926.0 276.1 929.3 273.6 931.8 274.9 934.3 277.4 936.8 286.1 939.8 287.3 943.5 288.6 946.8 291.1 949.8 283.6 953.5 280.4 957.2 286.1 961.0 287.3 964.2 288.6 965.6 291.2 968.1 298.2 971.2 303.9 974.3 307.7 977.4 310.9 979.9 312.2 983.0 316.2 986.2 315.9 988.7 314.9 991.2 317.5 993.7 321.3 996.8 323.8 999.9 325.8 1002.4 328.4 1004.6 334.6 1005.9 323.0 1007.5 306.4 1009.3 288.2 1010.9 300.6 1012.0 291.2 1013.7 273.1 1014.4 272.4 1015.7 258.0 1017.4 248.9 1019.2 246.9 1021.1 248.9 1023.0 259.9 1024.2 264.9 1026.1 239.9 1028.0 223.7 1030.5 213.2 1033.0 208.5" fill="none" stroke="#2b6aa6" stroke-width="3.1" stroke-linejoin="round" stroke-linecap="butt"/>
<path d="M5.5 349.9 8.7 354.9 11.2 352.9 13.7 356.2 16.2 352.9 18.7 354.9 21.2 366.2 24.2 382.4 27.0 384.9 29.4 384.4 30.4 394.9 32.4 367.4 34.4 356.2 36.4 352.4 38.9 361.2 41.4 369.9 43.9 361.2 46.9 363.7 49.4 347.4 52.4 332.5 55.4 328.7 58.6 327.0 61.1 328.7 64.4 327.5 66.9 323.7 69.9 322.0 72.4 335.0 74.9 351.2 77.4 341.2 80.4 340.4 82.4 351.2 84.9 358.7 87.3 349.9 90.3 353.7 92.8 351.2 95.8 354.4 98.6 363.7 101.1 376.1 106.1 383.6 109.8 399.8 113.6 417.3 116.0 421.1 119.3 421.8 122.3 423.6 126.0 424.8 129.3 426.0 132.3 426.5 135.3 424.3 137.3 409.8 139.3 394.9 142.3 384.9 145.2 382.4 147.7 384.9 150.2 377.4 153.2 363.7 156.0 369.9 158.5 361.2 161.7 358.7 164.7 344.9 166.7 349.9 170.2 348.7 173.4 339.9 175.9 335.0 178.7 344.9 180.9 338.7 184.7 322.5 187.2 309.7 190.9 297.2 194.7 286.8 197.2 286.0 198.9 314.7 202.6 322.2 207.1 329.7 210.9 312.2 214.6 302.2 218.4 301.0 222.1 304.7 226.6 296.0 230.8 312.2 234.6 329.7 234.6 330.0 237.6 339.9 240.8 342.4 244.1 349.9 247.1 346.2 249.6 343.7 253.3 327.5 255.8 321.2 258.3 336.2 262.0 327.5 265.0 324.5 268.3 310.0 268.3 312.2 270.8 306.0 273.3 312.2 275.0 324.7 272.5 306.2 275.0 327.4 278.0 324.9 281.2 333.7 283.7 341.2 287.0 342.9 289.5 341.2 292.0 329.9 294.5 322.4 295.7 299.7 297.0 279.8 298.7 252.3 300.4 241.1 303.7 241.8 306.2 239.8 308.7 232.8 311.2 234.8 314.9 231.1 317.4 234.3 319.4 255.3 322.4 256.8 326.2 258.5 329.4 259.3 332.4 262.3 335.4 259.8 337.9 256.0 340.4 255.3 343.6 261.0 346.9 267.3 349.4 267.8 351.1 283.5 353.6 278.5 356.8 289.7 359.3 291.7 362.8 269.8 365.3 270.3 367.8 266.0 370.3 278.5 373.6 276.0 375.3 289.7 377.3 306.0 379.8 297.2 382.3 304.7 386.0 314.7 389.3 319.4 391.0 316.2 393.8 334.4 397.3 318.7 399.8 317.5 402.8 324.9 405.3 331.2 407.8 315.0 410.3 319.9 412.8 312.0 416.0 329.9 419.7 319.9 422.7 310.0 426.0 295.0 429.2 290.5 432.2 306.2 435.2 315.0 439.7 313.7 442.7 310.0 445.2 308.0 447.7 310.0 449.7 322.4 452.7 331.2 455.9 337.4 457.7 334.4 460.9 344.4 464.2 341.9 467.2 341.2 471.6 341.2 475.1 329.4 478.4 337.4 480.9 338.7 484.1 343.7 486.6 342.9 489.1 349.9 491.6 334.9 494.6 338.7 497.6 333.7 500.1 341.2 504.1 324.9 507.1 331.2 510.1 334.4 513.3 333.7 515.8 331.2 518.3 334.9 522.1 329.9 525.1 333.7 529.0 318.0 532.0 332.4 534.5 329.9 538.3 317.5 540.8 313.7 543.3 312.5 545.5 306.2 548.7 304.8 551.2 299.8 554.5 307.3 557.5 311.1 560.5 312.3 563.0 306.1 565.0 328.5 568.0 336.8 570.4 331.0 573.7 311.1 576.7 307.8 579.4 314.3 582.4 311.8 585.4 312.3 588.7 316.8 591.2 317.3 593.7 329.8 595.4 334.8 598.6 328.5 601.1 332.3 604.9 319.8 607.9 316.0 611.1 307.3 613.6 324.8 616.1 312.3 619.4 296.1 621.9 299.8 624.9 304.8 627.3 309.8 629.8 299.3 632.8 309.8 636.1 294.3 638.6 302.3 641.8 303.6 644.3 309.8 647.3 299.8 649.8 294.8 653.6 281.1 656.0 293.6 658.5 304.8 661.5 317.3 664.0 323.5 667.3 322.3 669.8 324.8 672.8 322.3 674.8 312.3 677.3 319.8 680.3 317.3 683.5 321.0 686.7 311.1 689.7 306.1 692.7 303.6 696.0 301.1 699.7 293.6 701.5 290.3 703.5 298.6 706.0 307.3 709.7 308.6 712.7 309.8 715.9 312.3 718.4 313.6 720.2 307.3 722.7 306.8 725.9 317.3 728.4 312.3 731.7 319.8 734.7 331.0 737.7 339.8 740.9 347.2 744.1 344.7 745.9 345.2 749.1 349.7 752.1 353.5 755.1 348.5 758.4 337.3 760.1 334.8 762.6 338.5 765.1 338.5 767.6 339.8 770.1 336.0 773.3 337.3 775.8 332.8 779.1 331.8 781.6 328.5 784.1 330.3 787.8 327.3 790.1 329.8 792.6 333.5 795.8 339.3 799.0 327.3 802.0 316.0 805.0 321.0 809.0 319.8 811.5 319.3 813.5 319.8 815.5 323.5 818.7 331.0 822.0 334.8 824.5 333.5 827.5 331.0 830.0 329.8 832.5 316.0 835.0 314.3 838.0 316.8 840.4 309.8 843.7 302.3 846.9 288.6 849.9 291.1 852.9 290.3 855.4 293.6 857.9 289.8 861.2 292.8 863.7 296.8 866.9 293.6 869.4 296.1 872.4 284.9 875.4 282.9 877.9 293.6 881.1 297.3 883.6 303.6 886.1 296.1 889.4 293.6 891.9 283.6 894.9 292.3 897.8 301.1 901.1 308.6 904.3 313.6 907.3 317.3 911.1 319.8 913.6 321.8 916.8 323.5 919.8 321.0 922.8 316.8 924.3 294.8 926.0 277.4 929.3 273.6 931.8 276.1 934.3 279.4 936.8 287.3 939.8 286.8 943.5 289.3 946.8 292.8 949.8 286.1 953.5 281.1 957.2 287.3 961.0 287.8 964.2 289.3 965.6 292.5 968.1 299.3 971.2 304.9 974.3 308.7 977.4 312.4 979.9 313.7 983.0 317.4 986.2 317.2 988.7 316.2 991.2 318.7 993.7 322.4 996.8 324.9 999.9 326.8 1002.4 329.3 1004.6 335.5 1006.1 323.7 1008.0 307.4 1009.6 290.6 1011.1 301.2 1012.4 291.8 1014.2 273.7 1014.9 272.4 1016.4 259.9 1018.0 251.2 1019.6 248.9 1021.1 250.5 1023.0 259.9 1024.2 264.9 1026.1 239.9 1028.0 223.7 1030.5 213.7 1033.0 209.3" fill="none" stroke="#4f2a70" stroke-width="3.1" stroke-linejoin="round" stroke-linecap="butt"/>
<path d="M5.5 396.1 8.0 398.6 11.2 394.9 13.7 397.3 16.2 392.4 18.7 393.6 21.2 407.3 24.2 419.8 27.0 417.3 29.4 416.1 30.4 427.3 32.4 399.8 34.4 389.9 36.4 387.9 38.9 394.9 41.4 404.8 43.9 389.9 46.9 402.3 49.4 387.4 52.4 372.4 55.4 369.9 57.9 362.9 61.1 366.2 64.4 361.2 66.9 357.4 69.9 352.4 72.4 367.4 74.9 383.6 77.4 369.9 80.4 367.9 82.9 379.9 84.9 382.4 87.3 377.4 91.1 381.1 93.6 376.1 96.8 376.9 99.3 382.4 102.3 392.4 106.1 391.1 109.8 407.3 113.6 421.1 115.3 426.0 117.8 422.3 121.0 425.3 124.8 428.5 128.5 431.0 131.8 432.3 135.3 429.8 137.3 419.8 139.3 404.8 141.8 392.4 144.7 391.1 147.7 389.9 150.2 382.4 153.2 372.4 156.0 379.9 158.5 368.6 161.7 368.6 164.7 354.9 167.2 353.7 170.2 352.9 173.4 343.7 176.7 332.5 179.2 339.9 181.7 331.2 185.9 315.0 187.7 309.7 190.9 297.2 194.7 286.8 197.2 286.0 198.9 314.7 203.4 322.2 207.1 328.7 210.9 333.7 213.4 336.2 216.6 327.5 219.6 326.2 221.6 333.7 224.6 327.5 227.1 323.0 230.8 342.4 235.8 373.6 239.1 376.1 242.1 380.4 245.8 379.9 249.6 381.1 253.3 358.7 255.8 344.9 258.3 363.7 262.0 354.9 265.0 348.7 267.5 347.4 270.8 331.2 273.3 335.0 275.3 347.4 272.5 333.7 275.0 348.6 278.0 346.2 281.2 356.1 283.7 364.9 287.0 366.1 289.5 362.4 292.0 351.1 294.5 343.7 296.2 310.0 297.0 294.7 299.4 274.8 301.9 268.5 304.9 266.0 306.9 264.3 308.9 257.8 311.2 264.8 314.4 263.5 317.4 262.3 319.4 282.3 322.4 283.5 326.2 284.7 329.9 287.2 333.6 289.2 336.9 284.7 339.9 282.8 342.9 288.5 346.1 294.7 348.6 292.2 351.1 304.7 353.6 297.7 356.8 309.7 359.3 314.7 362.8 304.7 366.1 305.2 368.6 307.2 371.1 315.0 373.6 318.0 375.3 333.7 377.8 327.4 380.3 332.4 383.6 342.4 386.8 348.6 389.3 351.1 391.0 346.2 393.8 361.1 397.3 347.9 399.8 344.4 402.8 352.4 405.3 361.1 407.8 341.2 410.3 345.4 412.8 338.7 416.0 354.9 419.7 343.7 422.7 332.4 426.0 313.7 429.2 310.0 431.7 322.4 435.2 336.2 439.7 337.4 442.7 332.4 444.7 324.9 446.7 323.7 449.2 336.2 452.2 343.7 455.9 351.1 457.7 348.6 460.9 357.9 464.2 362.4 467.2 356.9 471.6 353.6 475.1 341.2 478.4 343.7 480.9 346.2 484.1 352.4 486.6 348.6 489.1 356.1 491.6 343.7 494.6 347.4 497.6 341.2 500.1 348.6 504.1 334.9 507.1 343.7 510.1 341.2 513.3 339.9 516.6 339.9 519.6 337.4 523.3 332.4 525.8 338.7 529.0 322.4 532.0 334.9 534.5 331.2 538.3 317.5 540.8 313.0 543.3 311.2 545.5 303.7 548.7 299.8 551.2 296.8 554.5 303.6 557.5 308.6 560.5 309.8 563.0 304.8 565.0 327.3 568.0 336.0 570.4 329.8 573.7 309.8 576.7 307.3 579.4 314.8 582.4 312.3 585.4 313.6 588.7 316.0 591.2 316.8 593.7 328.5 595.4 332.3 598.6 326.0 601.1 329.8 604.9 317.3 607.9 314.8 611.1 302.3 613.6 319.8 616.1 307.3 619.4 287.3 621.9 291.1 624.9 294.8 627.3 299.8 629.8 288.6 632.8 298.6 636.1 277.4 638.6 279.9 641.8 274.9 644.3 282.4 647.3 272.4 649.8 267.4 653.6 259.4 656.0 269.9 658.5 282.4 661.5 293.6 664.0 299.8 667.3 287.3 669.8 286.1 672.8 292.3 674.8 277.4 677.3 284.9 680.3 281.1 683.5 282.4 686.7 272.4 689.7 266.1 692.7 264.9 696.0 263.6 699.7 261.1 701.5 254.4 703.5 264.9 706.0 271.1 709.7 271.1 712.7 272.4 715.9 274.9 718.4 276.1 720.2 262.4 722.7 261.9 725.9 277.4 728.4 273.6 731.7 282.4 734.7 294.8 737.7 307.3 739.7 316.0 742.6 319.3 745.9 314.3 749.1 313.6 752.1 316.8 755.1 309.8 758.4 298.6 760.1 296.1 762.6 301.1 765.1 299.8 767.6 302.8 770.1 299.8 773.3 298.6 775.8 294.3 779.1 293.6 781.6 289.8 784.1 291.1 787.8 287.8 790.1 291.1 792.6 296.1 795.8 307.3 799.0 297.3 802.0 288.6 805.0 290.3 809.0 289.3 811.5 287.3 813.5 282.4 815.5 286.1 818.7 296.1 822.0 302.3 824.5 304.3 827.5 301.1 830.0 301.8 832.5 283.6 835.0 281.9 838.0 281.1 840.4 274.9 843.7 273.6 846.9 259.4 849.9 265.4 852.9 263.6 855.4 266.1 857.9 261.1 861.2 264.4 863.7 267.4 866.9 263.6 869.4 262.4 872.4 252.4 875.4 252.9 877.9 263.6 881.1 266.9 883.6 272.4 886.1 266.1 889.4 262.4 891.9 252.4 894.9 259.9 897.8 266.9 901.1 272.4 904.3 272.4 907.3 276.1 911.1 274.4 913.6 279.9 916.1 282.4 918.6 276.1 921.1 276.1 923.6 279.9 926.0 273.6 929.3 269.9 931.8 274.4 934.3 281.1 936.8 293.6 939.8 294.3 943.5 296.1 946.8 298.6 949.8 291.8 953.5 287.3 957.2 291.1 961.0 291.8 964.2 291.8 965.6 296.2 968.1 303.7 971.2 309.9 974.3 314.9 976.8 318.0 979.9 321.2 983.0 324.9 986.2 325.5 988.7 324.9 991.2 328.0 993.7 332.4 996.8 336.1 999.9 339.3 1002.4 341.7 1004.9 348.0 1006.8 337.4 1008.4 322.4 1009.9 311.2 1011.7 309.9 1013.0 316.8 1014.6 302.4 1016.4 287.5 1018.4 278.1 1019.9 276.2 1021.7 277.5 1023.4 285.0 1025.1 293.1 1026.1 277.5 1028.0 264.9 1030.5 248.7 1033.0 237.4" fill="none" stroke="#a5410a" stroke-width="3.1" stroke-linejoin="round" stroke-linecap="butt"/>
<path d="M1058.4 209.2L1064.4 200.4H1102.5V218.0H1064.4Z" fill="#2b6aa6" stroke="#111" stroke-width="1.2"/>
<text x="1066.6" y="213.9" font-size="13" fill="#fff" textLength="31" lengthAdjust="spacingAndGlyphs">3.788</text>
<path d="M1058.4 237.8L1064.4 229.0H1102.5V246.6H1064.4Z" fill="#8f3d0c" stroke="#111" stroke-width="1.2"/>
<text x="1066.6" y="242.5" font-size="13" fill="#fff" textLength="31" lengthAdjust="spacingAndGlyphs">3.671</text>
<path d="M1058.4 281.3L1064.4 272.5H1102.5V290.1H1064.4Z" fill="#f2294b" stroke="#111" stroke-width="1.2"/>
<text x="1066.6" y="286.0" font-size="13" fill="#fff" textLength="31" lengthAdjust="spacingAndGlyphs">3.493</text>
<path d="M1058.4 296.7L1064.4 287.9H1102.5V305.5H1064.4Z" fill="#19ee19" stroke="#111" stroke-width="1.2"/>
<text x="1066.6" y="301.4" font-size="13" fill="#000" textLength="31" lengthAdjust="spacingAndGlyphs">3.430</text>
<path d="M1058.4 406.7L1064.4 397.9H1102.5V415.5H1064.4Z" fill="#ffee10" stroke="#111" stroke-width="1.2"/>
<text x="1066.6" y="411.4" font-size="13" fill="#000" textLength="31" lengthAdjust="spacingAndGlyphs">2.980</text>
<rect x="797.5" y="517.5" width="173" height="139" rx="4" fill="#000" opacity=".12"/>
<rect x="795.5" y="515.5" width="173" height="139" rx="4" fill="#f0f0f0" fill-opacity=".94" stroke="#2a2a2a" stroke-width="1.2"/>
<g font-size="17" fill="#111">
<rect x="805.8" y="529" width="12.2" height="11.9" fill="#ffee10"/>
<text x="822.5" y="541.2" textLength="76.4" lengthAdjust="spacing">Germania</text><text x="914" y="541.2" textLength="44" lengthAdjust="spacing">2.980</text>
<rect x="805.8" y="549" width="12.2" height="11.9" fill="#f2294b"/>
<text x="822.5" y="561.2" textLength="58" lengthAdjust="spacing">Spagna</text><text x="914" y="561.2" textLength="44" lengthAdjust="spacing">3.493</text>
<rect x="805.8" y="569" width="12.2" height="11.9" fill="#19ee19"/>
<text x="822.5" y="581.2" textLength="84.4" lengthAdjust="spacing">Portogallo</text><text x="914" y="581.2" textLength="44" lengthAdjust="spacing">3.430</text>
<rect x="805.8" y="589" width="12.2" height="11.9" fill="#2b6aa6"/>
<text x="822.5" y="601.2" textLength="42" lengthAdjust="spacing">Italia</text><text x="914" y="601.2" textLength="44" lengthAdjust="spacing">3.788</text>
<rect x="805.8" y="609" width="12.2" height="11.9" fill="#4f2a70"/>
<text x="822.5" y="621.2" textLength="50" lengthAdjust="spacing">Grecia</text><text x="914" y="621.2" textLength="44" lengthAdjust="spacing">3.779</text>
<rect x="805.8" y="629" width="12.2" height="11.9" fill="#a5410a"/>
<text x="822.5" y="641.2" textLength="58" lengthAdjust="spacing">Francia</text><text x="914" y="641.2" textLength="44" lengthAdjust="spacing">3.671</text>
</g>
<rect x="508.7" y="107.5" width="33.6" height="21" fill="#a9a9a9" stroke="#000" stroke-width="1.2"/>
<path d="M513.6 111.5H526.6V124.6H513.6Z" fill="none" stroke="#fff" stroke-width="1.3"/><path d="M515.5 119L518 116.5 520.5 120.5 525 115.5" fill="none" stroke="#fff" stroke-width="1.3"/><path d="M532.8 116.3H539.2L536 119.6Z" fill="#fff"/>
<path d="M523.4 111V125" stroke="#333" stroke-width="1" stroke-dasharray="2 2.4"/>
</svg>
</body></html>
